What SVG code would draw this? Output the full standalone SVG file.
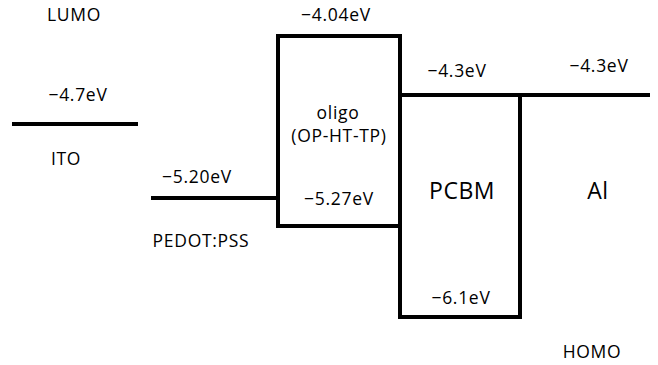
<svg xmlns="http://www.w3.org/2000/svg" width="658" height="365" viewBox="0 0 658 365">
<style>
.l{stroke:#000;stroke-width:4;fill:none;stroke-linecap:square}
text{font-family:"Open Sans","Noto Sans","Liberation Sans",sans-serif;font-size:17.5px;letter-spacing:0.7px;fill:#000}
.m{text-anchor:middle}
.big{font-size:23px;letter-spacing:0.5px}
</style>
<rect width="658" height="365" fill="#fff"/>
<g id="connectors">
<line class="l" x1="14" y1="124" x2="136" y2="124"/>
<line class="l" x1="153" y1="198" x2="278" y2="198"/>
<path class="l" d="M278 198 V226 H400"/>
<path class="l" d="M278 198 V36 H400 V95 H648"/>
<path class="l" d="M400 95 V317 H520 V95"/>
</g>
<g id="labels-left">
<text class="m" x="74" y="21">LUMO</text>
<text class="m" x="78" y="101">−4.7eV</text>
<text class="m" x="66" y="165">ITO</text>
<text class="m" x="197" y="183">−5.20eV</text>
<text class="m" x="201" y="247">PEDOT:PSS</text>
</g>
<g id="node-oligo">
<text class="m" x="336" y="21">−4.04eV</text>
<text class="m" x="338" y="119">oligo</text>
<text class="m" x="339" y="142">(OP-HT-TP)</text>
<text class="m" x="339" y="205">−5.27eV</text>
</g>
<g id="node-pcbm">
<text class="m" x="457" y="77">−4.3eV</text>
<text class="m big" x="462" y="199">PCBM</text>
<text class="m" x="461" y="304">−6.1eV</text>
</g>
<g id="node-al">
<text class="m" x="599" y="72">−4.3eV</text>
<text class="m big" x="598" y="199">Al</text>
<text class="m" x="592" y="358">HOMO</text>
</g>
</svg>
